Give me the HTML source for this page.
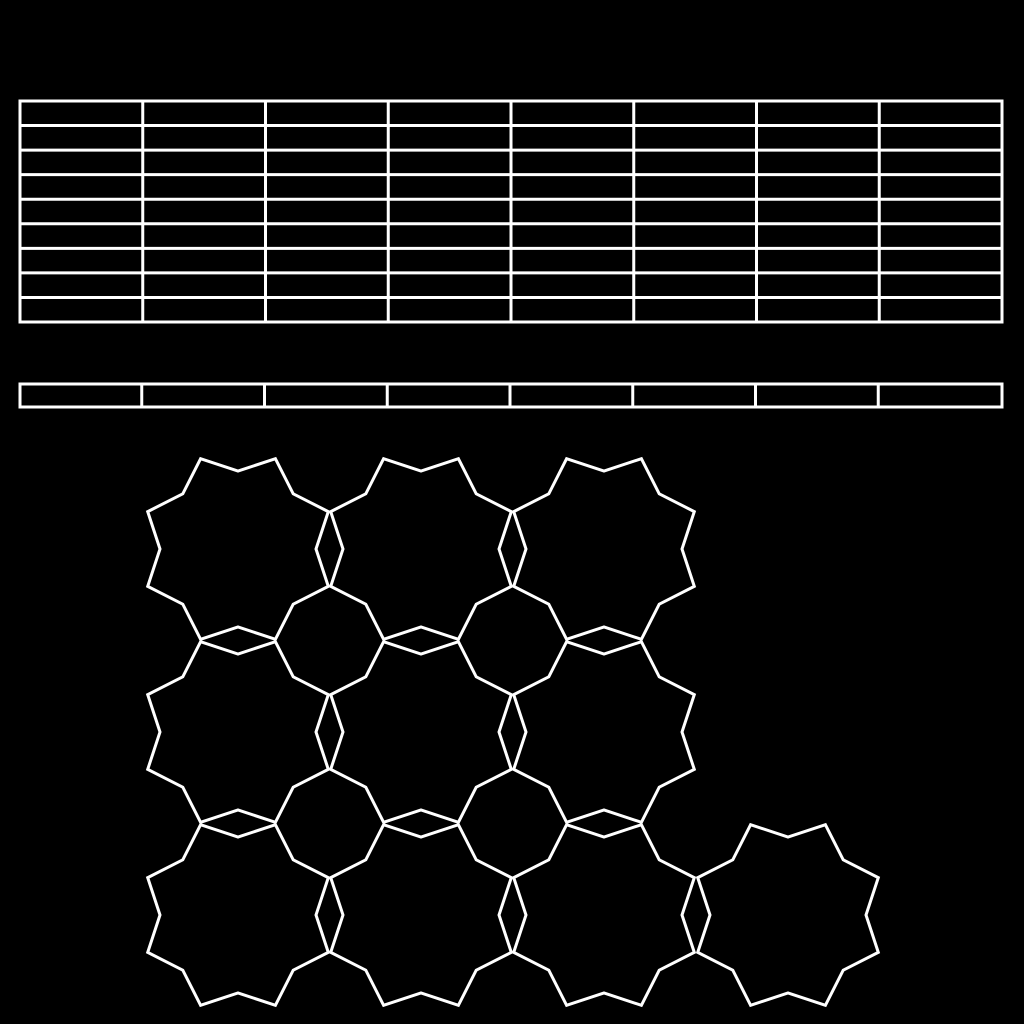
<!DOCTYPE html>
<html>
<head>
<meta charset="utf-8">
<style>
  html,body{margin:0;padding:0;background:#000;}
  svg{display:block;}
</style>
</head>
<body>
<svg id="canvas" width="1024" height="1024" viewBox="0 0 1024 1024" xmlns="http://www.w3.org/2000/svg">
  <rect x="0" y="0" width="1024" height="1024" fill="#000"/>
  <g id="grid" stroke="#fff" stroke-width="3" fill="none"></g>
  <g id="strip" stroke="#fff" stroke-width="3" fill="none"></g>
  <g id="stars" stroke="#fff" stroke-width="3" fill="none" stroke-linejoin="miter"></g>
</svg>
<script>
const starCentersX = [238, 421, 604, 238, 421, 604, 238, 421, 604, 788];
const starCentersY = [549, 549, 549, 732, 732, 732, 915, 915, 915, 915];
const gridCols = 8;
const gridRows = 9;
const stripCols = 8;

const NS = "http://www.w3.org/2000/svg";
function mk(tag, attrs){
  const el = document.createElementNS(NS, tag);
  for (const k in attrs) el.setAttribute(k, attrs[k]);
  return el;
}

// Upper grid
const grid = document.getElementById('grid');
const gx0 = 20, gx1 = 1002, gy0 = 101, gy1 = 322;
const gOuter = mk('rect', {x: gx0, y: gy0, width: gx1 - gx0, height: gy1 - gy0});


grid.appendChild(gOuter);
for (let i = 1; i < gridCols; i++) {
  const x = gx0 + (gx1 - gx0) * i / gridCols;
  const l = mk('line', {x1: x, y1: gy0, x2: x, y2: gy1});
  
  
  grid.appendChild(l);
}
for (let j = 1; j < gridRows; j++) {
  const y = gy0 + (gy1 - gy0) * j / gridRows;
  const l = mk('line', {x1: gx0, y1: y, x2: gx1, y2: y});
  
  
  grid.appendChild(l);
}

// Lower strip
const strip = document.getElementById('strip');
const sx0 = 20, sx1 = 1002, sy0 = 384, sy1 = 407;
const sOuter = mk('rect', {x: sx0, y: sy0, width: sx1 - sx0, height: sy1 - sy0});


strip.appendChild(sOuter);
for (let i = 1; i < stripCols; i++) {
  const x = sx0 + (sx1 - sx0) * i / stripCols - 1;
  const l = mk('line', {x1: x, y1: sy0, x2: x, y2: sy1});
  
  
  strip.appendChild(l);
}

// Stars
const stars = document.getElementById('stars');
const rOuter = 97.7, rInner = 78;
for (let s = 0; s < starCentersX.length; s++) {
  const cx = starCentersX[s], cy = starCentersY[s];
  const pts = [];
  for (let k = 0; k < 16; k++) {
    const ang = (k * 22.5) * Math.PI / 180;
    const r = (k % 2 === 0) ? rInner : rOuter;
    pts.push((cx + r * Math.cos(ang)).toFixed(1) + ',' + (cy + r * Math.sin(ang)).toFixed(1));
  }
  const p = mk('polygon', {points: pts.join(' ')});
  
  
  stars.appendChild(p);
}
</script>
</body>
</html>
